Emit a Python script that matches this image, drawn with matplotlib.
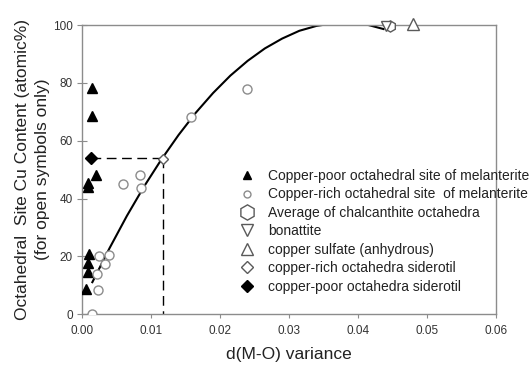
import matplotlib
matplotlib.use("Agg")
import matplotlib.pyplot as plt
from matplotlib.lines import Line2D

plt.rcParams['font.family'] = ['Liberation Sans', 'DejaVu Sans']

# --- data ---
poor_mel_x = [0.00145, 0.00145, 0.0020, 0.0008, 0.0008, 0.00106, 0.0009, 0.0009, 0.0006]
poor_mel_y = [78.3, 68.5, 48.3, 45.3, 43.9, 20.7, 17.6, 14.5, 8.6]

rich_mel_x = [0.0025, 0.00386, 0.0034, 0.0022, 0.0023, 0.00145, 0.0059, 0.00835, 0.00855, 0.01584, 0.0239]
rich_mel_y = [20.2, 20.4, 17.3, 13.9, 8.3, 0.0, 45.0, 48.0, 43.5, 68.1, 78.0]

chalc_x = [0.0447]
chalc_y = [99.6]
bonat_x = [0.0441]
bonat_y = [99.8]
anhyd_x = [0.0480]
anhyd_y = [100.3]
rich_sid_x = [0.01168]
rich_sid_y = [53.8]
poor_sid_x = [0.0013]
poor_sid_y = [54.0]

# trend curve read along its path
curve_x = [0.0015, 0.004, 0.0065, 0.009, 0.0115, 0.014, 0.0165, 0.019, 0.0215,
           0.024, 0.0265, 0.029, 0.0315, 0.034, 0.0365, 0.039, 0.0415, 0.0437]
curve_y = [11.1, 22.9, 34.0, 44.2, 53.5, 62.0, 69.7, 76.5, 82.5,
           87.6, 91.9, 95.3, 98.0, 99.7, 100.6, 100.7, 100.0, 98.6]

# guide lines
guide_h_x = [0.0013, 0.01168]
guide_h_y = [54.0, 54.0]
guide_v_x = [0.01168, 0.01168]
guide_v_y = [54.0, 0.0]

labels = ["Copper-poor octahedral site of melanterite",
          "Copper-rich octahedral site  of melanterite",
          "Average of chalcanthite octahedra",
          "bonattite",
          "copper sulfate (anhydrous)",
          "copper-rich octahedra siderotil",
          "copper-poor octahedra siderotil"]

xticks = [0.00, 0.01, 0.02, 0.03, 0.04, 0.05, 0.06]
xticklabels = ["0.00", "0.01", "0.02", "0.03", "0.04", "0.05", "0.06"]
yticks = [0, 20, 40, 60, 80, 100]

fig = plt.figure(figsize=(5.29, 3.65), dpi=100)
ax = fig.add_axes([82 / 529, 1 - 314.3 / 365, (496 - 82) / 529, (314.3 - 25) / 365])

gray = '#8c8c8c'
dgray = '#5a5a5a'

ax.plot(curve_x, curve_y, color='black', lw=1.5, zorder=2)
ax.plot(guide_h_x, guide_h_y, color='black', lw=1.0, dashes=(7, 4), zorder=2)
ax.plot(guide_v_x, guide_v_y, color='black', lw=1.0, dashes=(7, 4), zorder=2)

ax.plot(poor_mel_x, poor_mel_y, ls='none', marker='^', ms=6.5, mfc='black', mec='black', zorder=3)
ax.plot(rich_mel_x, rich_mel_y, ls='none', marker='o', ms=6.5, mfc='white', mec=gray, mew=1.0, zorder=3)
ax.plot(chalc_x, chalc_y, ls='none', marker='h', ms=8, mfc='white', mec=dgray, mew=1.0, zorder=4, clip_on=False)
ax.plot(bonat_x, bonat_y, ls='none', marker='v', ms=7.5, mfc='white', mec=dgray, mew=1.0, zorder=4, clip_on=False)
ax.plot(anhyd_x, anhyd_y, ls='none', marker='^', ms=9, mfc='white', mec=dgray, mew=1.0, zorder=4, clip_on=False)
ax.plot(rich_sid_x, rich_sid_y, ls='none', marker='D', ms=5.5, mfc='white', mec=dgray, mew=1.0, zorder=4)
ax.plot(poor_sid_x, poor_sid_y, ls='none', marker='D', ms=6, mfc='black', mec='black', zorder=4)

ax.set_xlim(0, 0.06)
ax.set_ylim(0, 100)
ax.set_xticks(xticks)
ax.set_xticklabels(xticklabels)
ax.set_yticks(yticks)

for s in ax.spines.values():
    s.set_color(gray)
    s.set_linewidth(1.0)
ax.tick_params(axis='x', direction='out', length=3, color=gray, labelsize=8.5, labelcolor='#333333', pad=5)
ax.tick_params(axis='y', direction='inout', length=7, color=gray, labelsize=8.5, labelcolor='#333333', pad=3)

ax.set_xlabel("d(M-O) variance", fontsize=12.5, color='#222222', labelpad=7)
ax.set_ylabel("Octahedral  Site Cu Content (atomic%)\n(for open symbols only)", fontsize=12.5,
              color='#222222', labelpad=2, linespacing=1.45)

handles = [
    Line2D([], [], ls='none', marker='^', ms=6, mfc='black', mec='black'),
    Line2D([], [], ls='none', marker='o', ms=5, mfc='white', mec=gray),
    Line2D([], [], ls='none', marker='h', ms=11, mfc='white', mec=dgray),
    Line2D([], [], ls='none', marker='v', ms=9, mfc='white', mec=dgray),
    Line2D([], [], ls='none', marker='^', ms=9, mfc='white', mec=dgray),
    Line2D([], [], ls='none', marker='D', ms=6, mfc='white', mec=dgray),
    Line2D([], [], ls='none', marker='D', ms=6.5, mfc='black', mec='black'),
]
leg = fig.legend(handles, labels, loc='upper left', bbox_to_anchor=(238.7 / 529, 1 - 169 / 365),
                 frameon=False, fontsize=10, labelspacing=0.32, handlelength=1.2,
                 handletextpad=0.9, borderaxespad=0, borderpad=0)
for t in leg.get_texts():
    t.set_color('#222222')

fig.savefig("out.png", dpi=100)
